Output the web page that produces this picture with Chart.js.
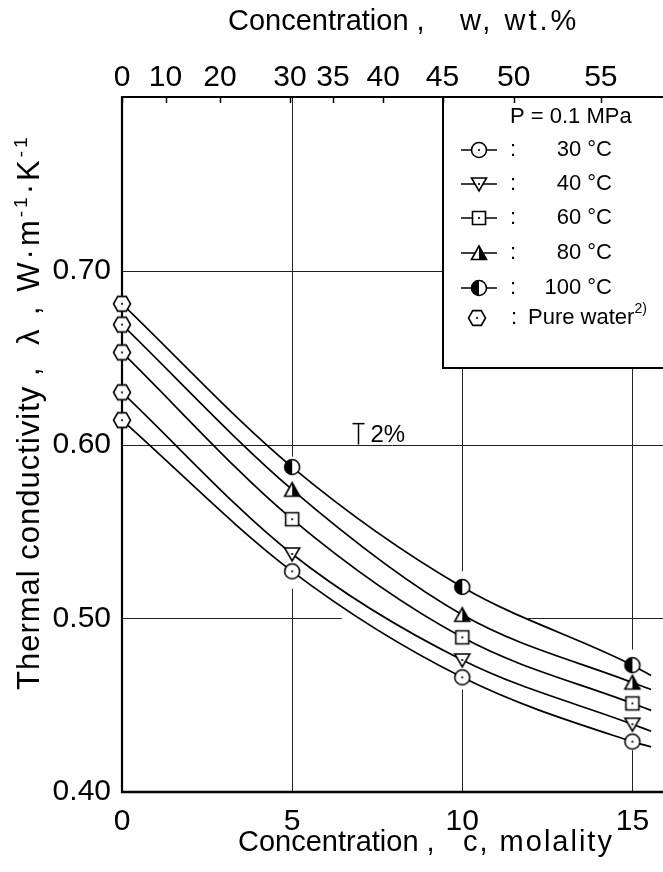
<!DOCTYPE html>
<html>
<head>
<meta charset="utf-8">
<script src="https://cdn.jsdelivr.net/npm/chart.js@4.4.0/dist/chart.umd.min.js"></script>
<style>
  html, body { margin: 0; padding: 0; background: #fff; }
  #wrap { width: 663px; height: 872px; }
</style>
</head>
<body>
<div id="wrap"><canvas id="chart" width="663" height="872"></canvas></div>
<script>
// 데이터
const temperatures = ['30 °C', '40 °C', '60 °C', '80 °C', '100 °C'];
const molality = [5, 10, 15];
const lambda30 = [0.527, 0.466, 0.429];
const lambda40 = [0.537, 0.476, 0.439];
const lambda60 = [0.557, 0.489, 0.451];
const lambda80 = [0.574, 0.502, 0.463];
const lambda100 = [0.587, 0.518, 0.473];
const pureWater = [0.614, 0.630, 0.653, 0.669, 0.681];   // c = 0
const curveEndC = 15.55;                                  // 곡선 끝
const curveEnd = [0.426, 0.435, 0.447, 0.459, 0.467];
const molalityTicks = [0, 5, 10, 15];
const lambdaTicks = [0.4, 0.5, 0.6, 0.7];
const wtTicks = [0, 10, 20, 30, 35, 40, 45, 50, 55];

const lambdaSeries = [lambda30, lambda40, lambda60, lambda80, lambda100];

// wt.% -> molality (LiBr)
const LIBR_MOLAR_MASS = 86.85;
function wtToMolality(w) {
    return 1000 * w / (LIBR_MOLAR_MASS * (100 - w));
}

const FONT = "'Liberation Sans', Arial, sans-serif";

// 마커 이미지
function makeMarker(type) {
    const s = 22;
    const cv = document.createElement('canvas');
    cv.width = s; cv.height = s;
    const g = cv.getContext('2d');
    g.translate(s / 2, s / 2);
    g.lineWidth = 1.6;
    g.strokeStyle = '#000';
    g.fillStyle = '#fff';
    g.beginPath();
    if (type === 'circle' || type === 'circleHalf') {
        g.arc(0, 0, 7.5, 0, Math.PI * 2);
    } else if (type === 'triDown') {
        g.moveTo(-7.5, -6); g.lineTo(7.5, -6); g.lineTo(0, 7); g.closePath();
    } else if (type === 'square') {
        g.rect(-6.5, -6.5, 13, 13);
    } else if (type === 'triHalf') {
        g.moveTo(-7.5, 6.5); g.lineTo(7.5, 6.5); g.lineTo(0, -7); g.closePath();
    } else if (type === 'hex') {
        for (let k = 0; k < 6; k++) {
            const a = k * Math.PI / 3;
            const px = 8.5 * Math.cos(a), py = 8.5 * Math.sin(a);
            if (k === 0) g.moveTo(px, py); else g.lineTo(px, py);
        }
        g.closePath();
    }
    g.fill();
    g.stroke();
    g.fillStyle = '#000';
    g.beginPath();
    if (type === 'circleHalf') {
        g.arc(0, 0, 7.5, Math.PI / 2, Math.PI * 1.5);
        g.closePath();
    } else if (type === 'triHalf') {
        g.moveTo(0, -7); g.lineTo(7.5, 6.5); g.lineTo(0, 6.5); g.closePath();
    } else {
        g.arc(0, 0, 1.1, 0, Math.PI * 2);
    }
    g.fill();
    return cv;
}

const seriesMarkers = ['circle', 'triDown', 'square', 'triHalf', 'circleHalf'];
const markers = {};
['circle', 'triDown', 'square', 'triHalf', 'circleHalf', 'hex'].forEach(t => markers[t] = makeMarker(t));

// 데이터셋
const datasets = [];
temperatures.forEach((t, i) => {
    datasets.push({
        label: t + ' fit',
        data: [{ x: 0, y: pureWater[i] }]
            .concat(molality.map((c, j) => ({ x: c, y: lambdaSeries[i][j] })))
            .concat([{ x: curveEndC, y: curveEnd[i] }]),
        borderColor: '#000',
        borderWidth: 1.7,
        pointRadius: 0,
        cubicInterpolationMode: 'monotone',
        order: 2
    });
    datasets.push({
        label: t,
        data: molality.map((c, j) => ({ x: c, y: lambdaSeries[i][j] })),
        showLine: false,
        pointStyle: markers[seriesMarkers[i]],
        pointRadius: 8,
        order: 1,
        clip: false
    });
});
datasets.push({
    label: 'Pure water',
    data: pureWater.map(v => ({ x: 0, y: v })),
    showLine: false,
    pointStyle: markers.hex,
    pointRadius: 8,
    order: 1,
    clip: false
});

// 격자선 조각 (데이터 단위)
const gridV = [[5, 0.80, 0.593], [5, 0.517, 0.40], [10, 0.644, 0.527], [10, 0.459, 0.40], [15, 0.644, 0.482], [15, 0.424, 0.40]];
const gridH = [[0.50, 0, 6.46], [0.50, 11.94, 15.9], [0.60, 0, 15.9], [0.70, 0, 9.44]];

function line(ctx, x0, y0, x1, y1) {
    ctx.beginPath();
    ctx.moveTo(x0, y0);
    ctx.lineTo(x1, y1);
    ctx.stroke();
}

// 위첨자 포함 텍스트
function drawRuns(ctx, x, y, runs, size) {
    let cx = x;
    runs.forEach(r => {
        const fs = r.sup ? Math.round(size * 0.62) : size;
        ctx.font = fs + 'px ' + FONT;
        ctx.fillText(r.t, cx, r.sup ? y - size * 0.38 : y);
        cx += ctx.measureText(r.t).width;
    });
}

const framePlugin = {
    id: 'frame',
    beforeDatasetsDraw(chart) {
        const { ctx, chartArea: a, scales } = chart;
        const x = scales.x, y = scales.y, xTop = scales.xTop;
        ctx.save();
        ctx.strokeStyle = '#222';
        ctx.lineWidth = 1;
        gridV.forEach(([c, y0, y1]) => {
            const px = Math.round(x.getPixelForValue(c)) + 0.5;
            line(ctx, px, y.getPixelForValue(y0), px, y.getPixelForValue(y1));
        });
        gridH.forEach(([v, c0, c1]) => {
            const py = Math.round(y.getPixelForValue(v)) + 0.5;
            line(ctx, x.getPixelForValue(c0), py, x.getPixelForValue(c1), py);
        });

        // 축
        ctx.strokeStyle = '#000';
        ctx.lineWidth = 2.2;
        line(ctx, a.left, a.top, a.left, a.bottom + 1);
        ctx.lineWidth = 2.6;
        line(ctx, a.left - 1, a.bottom, a.right, a.bottom);
        ctx.lineWidth = 2.2;
        line(ctx, a.left - 1, a.top, a.right, a.top);

        // 위 축 눈금
        ctx.lineWidth = 1.5;
        wtTicks.forEach(w => {
            const px = Math.round(xTop.getPixelForValue(wtToMolality(w))) + 0.5;
            line(ctx, px, a.top, px, a.top + 6);
        });

        // 범례 상자
        ctx.lineWidth = 2;
        line(ctx, 443, a.top, 443, 368);
        line(ctx, 442, 368, a.right, 368);

        // 2% 오차 막대
        const bx = Math.round(x.getPixelForValue(6.93)) + 0.5;
        const b0 = y.getPixelForValue(0.60), b1 = y.getPixelForValue(0.612);
        ctx.lineWidth = 1.5;
        line(ctx, bx, b0, bx, b1);
        line(ctx, bx - 6, b1, bx + 6, b1);
        ctx.fillStyle = '#000';
        ctx.font = '24px ' + FONT;
        ctx.textBaseline = 'middle';
        ctx.textAlign = 'left';
        ctx.fillText('2%', bx + 12, (b0 + b1) / 2 + 1);
        ctx.restore();
    },
    afterDatasetsDraw(chart) {
        const { ctx } = chart;
        ctx.save();
        ctx.fillStyle = '#000';
        ctx.strokeStyle = '#000';
        ctx.textBaseline = 'middle';

        // 범례
        ctx.font = '22px ' + FONT;
        ctx.textAlign = 'left';
        ctx.fillText('P = 0.1 MPa', 510, 117);
        const rows = [150, 184, 218, 253, 288];
        temperatures.forEach((t, i) => {
            ctx.lineWidth = 1.7;
            line(ctx, 461, rows[i], 497, rows[i]);
            const m = markers[seriesMarkers[i]];
            ctx.drawImage(m, 479 - m.width / 2, rows[i] - m.height / 2);
            ctx.font = '22px ' + FONT;
            ctx.textAlign = 'center';
            ctx.fillText(':', 513, rows[i]);
            ctx.textAlign = 'right';
            ctx.fillText(t, 612, rows[i]);
        });
        const hy = 318;
        ctx.drawImage(markers.hex, 477 - markers.hex.width / 2, hy - markers.hex.height / 2);
        ctx.textAlign = 'center';
        ctx.fillText(':', 514, hy);
        ctx.textAlign = 'left';
        drawRuns(ctx, 528, hy, [{ t: 'Pure water' }, { t: '2)', sup: true }], 22);

        // 축 제목
        ctx.font = '29px ' + FONT;
        ctx.letterSpacing = '0px';
        ctx.fillText('Concentration ,', 228, 22);
        ctx.letterSpacing = '3px';
        ctx.fillText('w, wt.%', 460, 22);
        ctx.letterSpacing = '0px';
        ctx.fillText('Concentration ,', 238, 843);
        ctx.letterSpacing = '2px';
        ctx.fillText('c, molality', 463, 843);

        ctx.letterSpacing = '1px';
        ctx.textBaseline = 'alphabetic';
        ctx.translate(39, 690);
        ctx.rotate(-Math.PI / 2);
        ctx.font = '31px ' + FONT;
        ctx.fillText('Thermal conductivity ,', 0, 0);
        ctx.letterSpacing = '3px';
        drawRuns(ctx, 345, 0, [{ t: 'λ , W·m' }, { t: '-1', sup: true }, { t: '·K' }, { t: '-1', sup: true }], 31);
        ctx.restore();
    }
};

const tickFont = { family: FONT, size: 30 };

function zeroPad(s) {
    s.paddingLeft = 0;
    s.paddingRight = 0;
}

new Chart(document.getElementById('chart'), {
    type: 'line',
    data: { datasets },
    options: {
        responsive: false,
        animation: false,
        devicePixelRatio: 1,
        layout: { padding: 0, autoPadding: false },
        plugins: {
            legend: { display: false },
            tooltip: { enabled: false }
        },
        scales: {
            x: {
                type: 'linear',
                position: 'bottom',
                min: 0,
                max: 15.9,
                grid: { display: false, drawTicks: false },
                border: { display: false },
                afterBuildTicks: s => { s.ticks = molalityTicks.map(v => ({ value: v })); },
                afterFit: s => { s.height = 80; zeroPad(s); },
                ticks: { font: tickFont, color: '#000', padding: 12, autoSkip: false, maxRotation: 0, callback: v => String(v) }
            },
            xTop: {
                type: 'linear',
                position: 'top',
                min: 0,
                max: 15.9,
                grid: { display: false, drawTicks: false },
                border: { display: false },
                afterBuildTicks: s => { s.ticks = wtTicks.map(w => ({ value: wtToMolality(w) })); },
                afterFit: s => { s.height = 97; zeroPad(s); },
                ticks: { font: tickFont, color: '#000', padding: 1, autoSkip: false, maxRotation: 0, callback: (v, i) => String(wtTicks[i]) }
            },
            y: {
                type: 'linear',
                min: 0.4,
                max: 0.8,
                grid: { display: false, drawTicks: false },
                border: { display: false },
                afterBuildTicks: s => { s.ticks = lambdaTicks.map(v => ({ value: v })); },
                afterFit: s => { s.width = 122; },
                ticks: { font: tickFont, color: '#000', padding: 11, callback: v => v.toFixed(2) }
            }
        }
    },
    plugins: [framePlugin]
});
</script>
</body>
</html>
